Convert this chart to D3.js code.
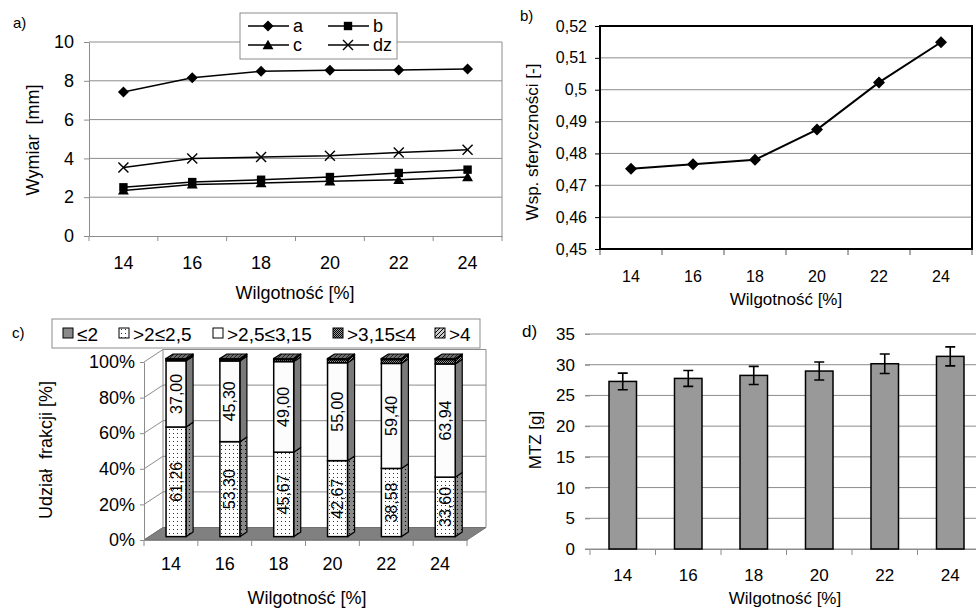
<!DOCTYPE html>
<html><head><meta charset="utf-8">
<script src="https://cdn.jsdelivr.net/npm/d3@7"></script>
<style>
body{margin:0;background:#fff}
svg{display:block}
text{font-family:Arial,"Liberation Sans",sans-serif;fill:#000}
</style>
</head><body>
<svg id="chart" width="976" height="608"></svg>
<script>
// ---------- DATA ----------
const moisture = ["14", "16", "18", "20", "22", "24"];
// panel a) dimensions [mm]
const dimA  = [7.42, 8.16, 8.49, 8.54, 8.56, 8.61];
const dimB  = [2.51, 2.78, 2.90, 3.04, 3.25, 3.42];
const dimC  = [2.35, 2.66, 2.73, 2.82, 2.90, 3.04];
const dimDz = [3.53, 3.99, 4.07, 4.14, 4.30, 4.45];
const dimTicks = [0, 2, 4, 6, 8, 10];
// panel b) sphericity
const sphericity = [0.4752, 0.4766, 0.4780, 0.4875, 0.5023, 0.5149];
const sphTicks = [0.45, 0.46, 0.47, 0.48, 0.49, 0.50, 0.51, 0.52];
// panel c) fraction shares (100% stacked)
const fracNames = ["≤2", ">2≤2,5", ">2,5≤3,15", ">3,15≤4", ">4"];
const fracLe2     = [0, 0, 0, 0, 0, 0];
const frac2to25   = [61.26, 53.30, 45.67, 42.67, 38.58, 33.60];
const frac25to315 = [37.00, 45.30, 49.00, 55.00, 59.40, 63.94];
const frac315to4  = [0.8, 0.9, 1.2, 1.8, 2.2, 2.5];
const fracGt4     = [0.4, 0.4, 0.4, 0.5, 0.5, 0.5];
const pctTicks = [0, 20, 40, 60, 80, 100];
// panel d) thousand kernel mass
const mtz    = [27.28, 27.77, 28.26, 28.97, 30.16, 31.36];
const mtzErr = [1.35, 1.30, 1.47, 1.47, 1.58, 1.55];
const mtzTicks = [0, 5, 10, 15, 20, 25, 30, 35];

// ---------- SETUP ----------
const svg = d3.select("#chart");
const GRID = "#8c8c8c";
const comma = d => String(+(+d).toFixed(2)).replace(".", ",");

function styleAxis(g, color) {
  g.selectAll(".domain").attr("stroke", color);
  g.selectAll(".tick line").attr("stroke", color);
  g.selectAll("text").attr("fill", "#000").style("font-family", "Arial, 'Liberation Sans', sans-serif");
}
function bandTicks(g, x, y0, len, color) {
  const bounds = x.domain().map(d => x(d)).concat([x(x.domain()[x.domain().length - 1]) + x.bandwidth()]);
  g.selectAll(null).data(bounds).join("line")
    .attr("x1", d => d).attr("x2", d => d).attr("y1", y0).attr("y2", y0 + len)
    .attr("stroke", color).attr("stroke-width", 1);
}
const diamond = r => `M0,${-r}L${r},0L0,${r}L${-r},0Z`;
const square = r => `M${-r},${-r}H${r}V${r}H${-r}Z`;
const triangle = r => `M0,${-r}L${r * 1.05},${r * 0.8}H${-r * 1.05}Z`;

// defs: patterns
const defs = svg.append("defs");
const pDots = defs.append("pattern").attr("id", "dots").attr("patternUnits", "userSpaceOnUse").attr("width", 4).attr("height", 4);
pDots.append("rect").attr("width", 4).attr("height", 4).attr("fill", "#fff");
pDots.append("rect").attr("x", 1).attr("y", 1).attr("width", 1).attr("height", 1).attr("fill", "#333");
const pDotsS = defs.append("pattern").attr("id", "dotsSide").attr("patternUnits", "userSpaceOnUse").attr("width", 4).attr("height", 4);
pDotsS.append("rect").attr("width", 4).attr("height", 4).attr("fill", "#8a8a8a");
pDotsS.append("rect").attr("x", 1).attr("y", 1).attr("width", 1).attr("height", 1).attr("fill", "#000");
const pDith = defs.append("pattern").attr("id", "dith").attr("patternUnits", "userSpaceOnUse").attr("width", 2).attr("height", 2);
pDith.append("rect").attr("width", 2).attr("height", 2).attr("fill", "#9a9a9a");
pDith.append("rect").attr("width", 1).attr("height", 1).attr("fill", "#000");
pDith.append("rect").attr("x", 1).attr("y", 1).attr("width", 1).attr("height", 1).attr("fill", "#000");
const pHatch = defs.append("pattern").attr("id", "hatch").attr("patternUnits", "userSpaceOnUse").attr("width", 4).attr("height", 4);
pHatch.append("rect").attr("width", 4).attr("height", 4).attr("fill", "#d0d0d0");
pHatch.append("path").attr("d", "M-1,1 L1,-1 M0,4 L4,0 M3,5 L5,3").attr("stroke", "#000").attr("stroke-width", 1);
const pHatchD = defs.append("pattern").attr("id", "hatchDark").attr("patternUnits", "userSpaceOnUse").attr("width", 4).attr("height", 4);
pHatchD.append("rect").attr("width", 4).attr("height", 4).attr("fill", "#6e6e6e");
pHatchD.append("path").attr("d", "M-1,1 L1,-1 M0,4 L4,0 M3,5 L5,3").attr("stroke", "#222").attr("stroke-width", 1);

// ================= PANEL a =================
{
  const L = 89, R = 502, T = 42, B = 236;
  const x = d3.scaleBand().domain(moisture).range([L, R]);
  const y = d3.scaleLinear().domain([0, 10]).range([B, T]);
  const g = svg.append("g");
  g.selectAll(null).data(dimTicks.filter(d => d > 0)).join("line")
    .attr("x1", L).attr("x2", R).attr("y1", d => y(d)).attr("y2", d => y(d))
    .attr("stroke", GRID).attr("stroke-width", 1);
  g.append("line").attr("x1", R).attr("x2", R).attr("y1", T).attr("y2", B).attr("stroke", GRID);
  const ya = g.append("g").attr("transform", `translate(${L},0)`)
    .call(d3.axisLeft(y).tickValues(dimTicks).tickSize(5).tickPadding(10).tickSizeOuter(0))
    .style("font-size", "18px");
  styleAxis(ya, GRID);
  const xa = g.append("g").attr("transform", `translate(0,${B})`)
    .call(d3.axisBottom(x).tickSize(0).tickPadding(20).tickSizeOuter(0))
    .style("font-size", "18px");
  styleAxis(xa, GRID);
  bandTicks(g, x, B, 5, GRID);

  const series = [
    {name: "a", vals: dimA, mk: diamond(5.5)},
    {name: "b", vals: dimB, mk: square(4.2)},
    {name: "c", vals: dimC, mk: triangle(5.2)},
    {name: "dz", vals: dimDz, mk: "x"}
  ];
  const line = d3.line().x((d, i) => x(moisture[i]) + x.bandwidth() / 2).y(d => y(d));
  const drawMarker = (sel, s) => {
    if (s.mk === "x") {
      sel.append("path").attr("d", "M-5,-5L5,5M-5,5L5,-5").attr("stroke", "#000").attr("stroke-width", 1.4).attr("fill", "none");
    } else {
      sel.append("path").attr("d", s.mk).attr("fill", "#000");
    }
  };
  series.forEach(s => {
    g.append("path").attr("d", line(s.vals)).attr("fill", "none").attr("stroke", "#000").attr("stroke-width", 1.5);
    s.vals.forEach((v, i) => {
      drawMarker(g.append("g").attr("transform", `translate(${x(moisture[i]) + x.bandwidth() / 2},${y(v)})`), s);
    });
  });
  const lg = g.append("g");
  lg.append("rect").attr("x", 240).attr("y", 13).attr("width", 157).attr("height", 46)
    .attr("fill", "#fff").attr("stroke", GRID);
  const pos = [[248, 26], [328, 26], [248, 45], [328, 45]];
  series.forEach((s, k) => {
    const [lx, ly] = pos[k];
    lg.append("line").attr("x1", lx).attr("x2", lx + 41).attr("y1", ly).attr("y2", ly).attr("stroke", "#000").attr("stroke-width", 1.5);
    drawMarker(lg.append("g").attr("transform", `translate(${lx + 20},${ly})`), s);
    lg.append("text").attr("x", lx + 45).attr("y", ly).attr("dy", "0.35em").style("font-size", "18px").text(s.name);
  });
  g.append("text").attr("x", 295).attr("y", 299).attr("text-anchor", "middle").style("font-size", "18px").text("Wilgotność [%]");
  g.append("text").attr("transform", "translate(39,140) rotate(-90)").attr("text-anchor", "middle")
    .style("font-size", "18px").style("white-space", "pre").text("Wymiar  [mm]");
  g.append("text").attr("x", 13).attr("y", 28).style("font-size", "15px").text("a)");
}

// ================= PANEL b =================
{
  const L = 600, R = 972, T = 26, B = 249;
  const x = d3.scaleBand().domain(moisture).range([L, R]);
  const y = d3.scaleLinear().domain([0.45, 0.52]).range([B, T]);
  const g = svg.append("g");
  g.selectAll(null).data(sphTicks).join("line")
    .attr("x1", L).attr("x2", R).attr("y1", d => y(d)).attr("y2", d => y(d))
    .attr("stroke", GRID).attr("stroke-width", 1);
  const ya = g.append("g").attr("transform", `translate(${L},0)`)
    .call(d3.axisLeft(y).tickValues(sphTicks).tickFormat(comma).tickSize(5).tickPadding(8).tickSizeOuter(0))
    .style("font-size", "16px");
  styleAxis(ya, "#000");
  const xa = g.append("g").attr("transform", `translate(0,${B})`)
    .call(d3.axisBottom(x).tickSize(0).tickPadding(22).tickSizeOuter(0))
    .style("font-size", "16px");
  styleAxis(xa, "#000");
  bandTicks(g, x, B, 6, "#555");
  g.append("rect").attr("x", L).attr("y", T).attr("width", R - L).attr("height", B - T)
    .attr("fill", "none").attr("stroke", "#000").attr("stroke-width", 2);
  const line = d3.line().x((d, i) => x(moisture[i]) + x.bandwidth() / 2).y(d => y(d));
  g.append("path").attr("d", line(sphericity)).attr("fill", "none").attr("stroke", "#000").attr("stroke-width", 2);
  g.selectAll(null).data(sphericity).join("path")
    .attr("transform", (d, i) => `translate(${x(moisture[i]) + x.bandwidth() / 2},${y(d)})`)
    .attr("d", diamond(6)).attr("fill", "#000");
  g.append("text").attr("x", 786).attr("y", 305).attr("text-anchor", "middle").style("font-size", "17px").text("Wilgotność [%]");
  g.append("text").attr("transform", "translate(538,142) rotate(-90)").attr("text-anchor", "middle")
    .style("font-size", "17px").text("Wsp. sferyczności [-]");
  g.append("text").attr("x", 520).attr("y", 21).style("font-size", "15px").text("b)");
}

// ================= PANEL c =================
{
  const L = 144, R = 467, T = 362, B = 540;
  const DX = 19, DY = -12.5;
  const x = d3.scaleBand().domain(moisture).range([L, R]);
  const y = d3.scaleLinear().domain([0, 100]).range([B, T]);
  const g = svg.append("g");
  g.selectAll(null).data(pctTicks).join("line")
    .attr("x1", L + DX).attr("x2", R + DX).attr("y1", d => y(d) + DY).attr("y2", d => y(d) + DY)
    .attr("stroke", GRID);
  g.selectAll(null).data(pctTicks).join("line")
    .attr("x1", L).attr("x2", L + DX).attr("y1", d => y(d)).attr("y2", d => y(d) + DY)
    .attr("stroke", GRID);
  g.append("line").attr("x1", L + DX).attr("x2", L + DX).attr("y1", T + DY).attr("y2", B + DY).attr("stroke", GRID);
  g.append("line").attr("x1", R + DX).attr("x2", R + DX).attr("y1", T + DY).attr("y2", B + DY).attr("stroke", GRID);
  g.append("polygon")
    .attr("points", [[L, B], [R, B], [R + DX, B + DY], [L + DX, B + DY]].map(p => p.join(",")).join(" "))
    .attr("fill", "#808080").attr("stroke", "#707070");
  const ya = g.append("g").attr("transform", `translate(${L},0)`)
    .call(d3.axisLeft(y).tickValues(pctTicks).tickFormat(d => d + "%").tickSize(4).tickPadding(5).tickSizeOuter(0))
    .style("font-size", "18px");
  styleAxis(ya, GRID);
  const xa = g.append("g").attr("transform", `translate(0,${B})`)
    .call(d3.axisBottom(x).tickSize(0).tickPadding(17).tickSizeOuter(0))
    .style("font-size", "18px");
  styleAxis(xa, GRID);
  bandTicks(g, x, B, 6, GRID);

  const keys = fracNames;
  const rows = moisture.map((m, i) => ({
    m, [keys[0]]: fracLe2[i], [keys[1]]: frac2to25[i], [keys[2]]: frac25to315[i], [keys[3]]: frac315to4[i], [keys[4]]: fracGt4[i]
  }));
  const layers = d3.stack().keys(keys).offset(d3.stackOffsetExpand)(rows);
  const frontFill = ["#8a8a8a", "url(#dots)", "#fcfcfc", "url(#dith)", "url(#hatch)"];
  const sideFill  = ["#666", "url(#dotsSide)", "#7a7a7a", "url(#dith)", "url(#hatchDark)"];
  const d0 = 0.27, d1 = 0.64, bw = 20;
  const fx = d0 * DX, fy = d0 * DY, sx = (d1 - d0) * DX, sy = (d1 - d0) * DY;
  const yp = v => y(v * 100);
  moisture.forEach((m, i) => {
    const x0 = x(m) + (x.bandwidth() - bw) / 2 + fx, x1 = x0 + bw;
    const bg = g.append("g");
    layers.forEach((layer, k) => {
      const [a, b] = layer[i];
      if (b - a <= 0) return;
      const yb = yp(a) + fy, yt = yp(b) + fy;
      bg.append("polygon")
        .attr("points", [[x1, yt], [x1 + sx, yt + sy], [x1 + sx, yb + sy], [x1, yb]].map(p => p.join(",")).join(" "))
        .attr("fill", sideFill[k]).attr("stroke", "#000").attr("stroke-width", 1.2).attr("stroke-linejoin", "round");
      bg.append("rect").attr("x", x0).attr("y", yt).attr("width", bw).attr("height", yb - yt)
        .attr("fill", frontFill[k]).attr("stroke", "#000").attr("stroke-width", 1.5);
    });
    const top = layers[layers.length - 1][i][1];
    const yt = yp(top) + fy;
    bg.append("polygon")
      .attr("points", [[x0, yt], [x1, yt], [x1 + sx, yt + sy], [x0 + sx, yt + sy]].map(p => p.join(",")).join(" "))
      .attr("fill", "url(#hatchDark)").attr("stroke", "#000").attr("stroke-width", 1.2).attr("stroke-linejoin", "round");
    [[1, frac2to25[i]], [2, frac25to315[i]]].forEach(([k, v]) => {
      const [a, b] = layers[k][i];
      const cy = (yp(a) + yp(b)) / 2 + fy;
      bg.append("text").attr("transform", `translate(${x0 + bw / 2},${cy}) rotate(-90)`)
        .attr("text-anchor", "middle").attr("dy", "0.35em").style("font-size", "16px")
        .text(v.toFixed(2).replace(".", ","));
    });
  });

  const lg = g.append("g");
  lg.append("rect").attr("x", 52).attr("y", 319).attr("width", 428).attr("height", 29).attr("fill", "#fff").attr("stroke", GRID);
  const lx = [63, 119, 213, 333, 435];
  const legFill = ["#8a8a8a", "url(#dots)", "#fff", "url(#dith)", "url(#hatch)"];
  keys.forEach((k, j) => {
    lg.append("rect").attr("x", lx[j]).attr("y", 328).attr("width", 10).attr("height", 10)
      .attr("fill", legFill[j]).attr("stroke", "#000").attr("stroke-width", 1);
    lg.append("text").attr("x", lx[j] + 14).attr("y", 334).attr("dy", "0.35em").style("font-size", "19px").text(k);
  });
  g.append("text").attr("x", 307).attr("y", 604).attr("text-anchor", "middle").style("font-size", "18px").text("Wilgotność [%]");
  g.append("text").attr("transform", "translate(52,450) rotate(-90)").attr("text-anchor", "middle")
    .style("font-size", "18px").style("white-space", "pre").text("Udział  frakcji [%]");
  g.append("text").attr("x", 12).attr("y", 338).style("font-size", "15px").text("c)");
}

// ================= PANEL d =================
{
  const L = 590, T = 334, B = 549;
  const step = 65.5;
  const R = L + step * moisture.length;
  const x = d3.scaleBand().domain(moisture).range([L, R]).paddingInner(0.58).paddingOuter(0.29);
  const xb = d3.scaleBand().domain(moisture).range([L, R]);
  const y = d3.scaleLinear().domain([0, 35]).range([B, T]);
  const g = svg.append("g");
  g.selectAll(null).data(mtzTicks).join("line")
    .attr("x1", L - 5).attr("x2", R).attr("y1", d => y(d)).attr("y2", d => y(d))
    .attr("stroke", GRID);
  const ya = g.append("g").attr("transform", `translate(${L},0)`)
    .call(d3.axisLeft(y).tickValues(mtzTicks).tickSize(5).tickPadding(10).tickSizeOuter(0))
    .style("font-size", "17px");
  styleAxis(ya, GRID);
  ya.select(".domain").remove();
  const xa = g.append("g").attr("transform", `translate(0,${B})`)
    .call(d3.axisBottom(xb).tickSize(0).tickPadding(20).tickSizeOuter(0))
    .style("font-size", "17px");
  styleAxis(xa, GRID);
  bandTicks(g, xb, B, 6, GRID);
  g.selectAll(null).data(mtz).join("rect")
    .attr("x", (d, i) => x(moisture[i])).attr("width", x.bandwidth())
    .attr("y", d => y(d)).attr("height", d => B - y(d))
    .attr("fill", "#999").attr("stroke", "#000").attr("stroke-width", 1.5);
  mtz.forEach((v, i) => {
    const cx = x(moisture[i]) + x.bandwidth() / 2;
    const yh = y(v + mtzErr[i]), yl = y(v - mtzErr[i]);
    g.append("path").attr("d", `M${cx - 5},${yh}H${cx + 5}M${cx},${yh}V${yl}M${cx - 5},${yl}H${cx + 5}`)
      .attr("stroke", "#000").attr("stroke-width", 1.6).attr("fill", "none");
  });
  g.append("text").attr("x", 785).attr("y", 604).attr("text-anchor", "middle").style("font-size", "17px").text("Wilgotność [%]");
  g.append("text").attr("transform", "translate(541,440) rotate(-90)").attr("text-anchor", "middle")
    .style("font-size", "17px").text("MTZ [g]");
  g.append("text").attr("x", 522).attr("y", 337).style("font-size", "17px").text("d)");
}
</script>
</body></html>
